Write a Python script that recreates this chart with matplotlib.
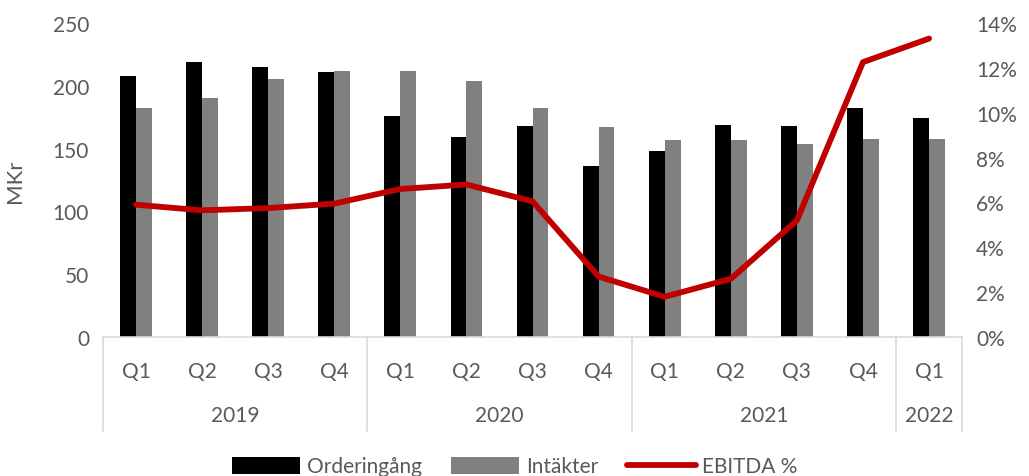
import numpy as np
import matplotlib.pyplot as plt
from matplotlib.transforms import blended_transform_factory

# data
quarters = ['Q1', 'Q2', 'Q3', 'Q4', 'Q1', 'Q2', 'Q3', 'Q4', 'Q1', 'Q2', 'Q3', 'Q4', 'Q1']
years = ['2019', '2020', '2021', '2022']
year_len = [4, 4, 4, 1]
orders = [208, 219, 215, 211, 176, 159, 168, 136, 148, 169, 168, 182, 174]
revenue = [182, 190, 205, 212, 212, 204, 182, 167, 157, 157, 154, 158, 158]
ebitda = [5.9, 5.65, 5.75, 5.95, 6.6, 6.8, 6.05, 2.7, 1.8, 2.6, 5.2, 12.25, 13.3]

plt.rcParams['font.family'] = ['Lato', 'DejaVu Sans']
txt = '#595959'
edge = '#D9D9D9'

fig = plt.figure(figsize=(10.29, 4.77), dpi=100)
ax = fig.add_axes([0.1, 0.291, 0.835, 0.659])
ax2 = ax.twinx()

x = np.arange(len(quarters))
w = 0.24
ax.bar(x - w / 2, orders, w, color='#000000', label='Orderingång')
ax.bar(x + w / 2, revenue, w, color='#808080', label='Intäkter')
ax2.plot(x, np.array(ebitda) / 100, color='#C00000', lw=4.2, solid_capstyle='round', label='EBITDA %')

ax.set_xlim(-0.5, len(quarters) - 0.5)
ax.set_ylim(0, 250)
ax.set_yticks(range(0, 251, 50))
ax2.set_ylim(0, 0.14)
ax2.set_yticks(np.arange(0, 0.141, 0.02))
ax2.set_yticklabels([f'{int(round(v * 100))}%' for v in np.arange(0, 0.141, 0.02)])

for a in (ax, ax2):
    for s in a.spines.values():
        s.set_visible(False)
    a.tick_params(axis='y', length=0, labelsize=15, colors=txt, pad=10)
ax.spines['bottom'].set_visible(True)
ax.spines['bottom'].set_color(edge)
ax.spines['bottom'].set_linewidth(1.2)
ax.set_xticks([])
ax.set_ylabel('MKr', fontsize=16, color=txt, labelpad=20)

# two level category axis
tr = blended_transform_factory(ax.transData, ax.transAxes)
for i, q in enumerate(quarters):
    ax.text(i, -0.108, q, transform=tr, ha='center', va='center', fontsize=15, color=txt)
start = -0.5
bounds = [start]
for yr, n in zip(years, year_len):
    ax.text(start + n / 2, -0.248, yr, transform=tr, ha='center', va='center', fontsize=15, color=txt)
    start += n
    bounds.append(start)
for b in bounds:
    ax.plot([b, b], [0, -0.3], transform=tr, color=edge, lw=1.2, clip_on=False)

h1, l1 = ax.get_legend_handles_labels()
h2, l2 = ax2.get_legend_handles_labels()
leg = fig.legend(h1 + h2, l1 + l2, loc='center', bbox_to_anchor=(0.5, 0.02), ncol=3, frameon=False,
                 fontsize=15, handlelength=3.3, handleheight=0.9, columnspacing=1.4, handletextpad=0.3)
for t in leg.get_texts():
    t.set_color(txt)

fig.savefig('out.png', dpi=100)
